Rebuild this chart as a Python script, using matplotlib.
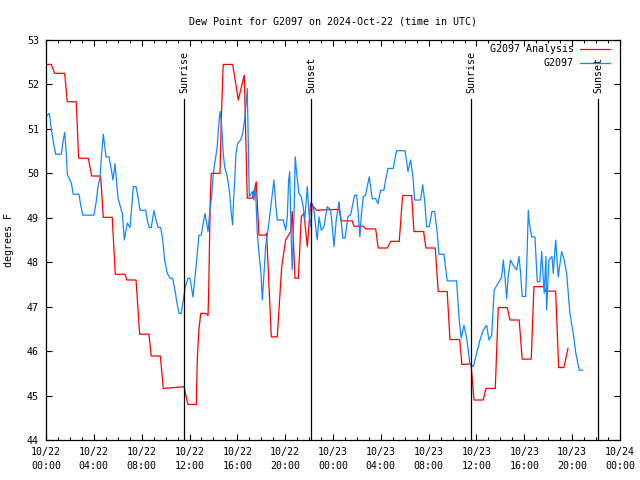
import matplotlib
matplotlib.use('Agg')
import matplotlib.pyplot as plt
from matplotlib.ticker import MultipleLocator

# hours since 2024-10-22 00:00 UTC
analysis_hours = [0.06, 0.44, 0.73, 1.56, 1.78, 2.53, 2.73, 3.54, 3.82, 4.57, 4.79, 5.54, 5.79, 6.61,
                  6.77, 7.53, 7.83, 8.61, 8.80, 9.56, 9.81, 11.54, 11.87, 12.57, 12.65, 12.77, 12.94,
                  13.35, 13.55, 13.60, 13.74, 13.82, 14.55, 14.66, 14.82, 15.61, 15.86, 16.08, 16.58,
                  16.83, 17.25, 17.58, 17.81, 18.37, 18.45, 18.84, 19.34, 19.71, 20.04, 20.46, 20.59,
                  20.82, 21.10, 21.35, 21.57, 21.85, 22.13, 22.63, 24.50, 24.69, 25.61, 25.75, 26.53,
                  26.73, 27.57, 27.78, 28.54, 28.82, 29.54, 29.82, 30.58, 30.77, 31.58, 31.77, 32.55,
                  32.80, 33.55, 33.78, 34.59, 34.78, 35.54, 35.79, 36.56, 36.79, 37.57, 37.82, 38.57,
                  38.80, 39.57, 39.82, 40.58, 40.80, 41.64, 41.78, 42.62, 42.87, 43.31, 43.65]
analysis_dewp = [52.45, 52.45, 52.25, 52.25, 51.61, 51.61, 50.34, 50.34, 49.94, 49.94, 49.01, 49.01,
                 47.73, 47.73, 47.60, 47.60, 46.38, 46.38, 45.89, 45.89, 45.16, 45.20, 44.80, 44.80,
                 45.80, 46.44, 46.85, 46.85, 46.80, 47.30, 49.47, 50.00, 50.00, 51.24, 52.45, 52.45,
                 52.03, 51.65, 52.21, 49.44, 49.44, 49.81, 48.61, 48.61, 48.65, 46.32, 46.32, 47.90,
                 48.50, 48.69, 49.14, 47.64, 47.64, 49.03, 49.10, 48.35, 49.32, 49.17, 49.19, 48.93,
                 48.93, 48.81, 48.81, 48.75, 48.75, 48.32, 48.32, 48.47, 48.47, 49.50, 49.50, 48.69,
                 48.69, 48.32, 48.32, 47.34, 47.34, 46.26, 46.26, 45.70, 45.71, 44.90, 44.90, 45.16,
                 45.16, 46.98, 46.98, 46.70, 46.70, 45.82, 45.82, 47.45, 47.45, 47.35, 47.35, 45.63,
                 45.63, 46.06]

station_hours = [0.06, 0.28, 0.44, 0.61, 0.81, 1.28, 1.42, 1.56, 1.70, 1.78, 2.12, 2.28, 2.76, 2.90,
                 3.07, 4.01, 4.18, 4.35, 4.52, 4.66, 4.79, 5.02, 5.27, 5.49, 5.60, 5.77, 6.02, 6.38,
                 6.55, 6.80, 7.02, 7.17, 7.30, 7.53, 7.69, 7.86, 8.34, 8.47, 8.64, 8.80, 9.03, 9.20,
                 9.39, 9.59, 9.76, 9.92, 10.14, 10.37, 10.59, 10.76, 10.98, 11.12, 11.31, 11.48,
                 11.65, 11.87, 12.04, 12.29, 12.52, 12.65, 12.79, 12.98, 13.15, 13.29, 13.55, 13.71,
                 13.85, 13.99, 14.19, 14.32, 14.41, 14.55, 14.66, 14.82, 14.94, 15.16, 15.36, 15.49,
                 15.61, 15.66, 15.78, 15.89, 16.03, 16.28, 16.45, 16.61, 16.70, 16.83, 16.91, 17.00,
                 17.25, 17.39, 17.50, 17.58, 17.67, 17.81, 17.98, 18.09, 18.23, 18.37, 18.67, 19.06,
                 19.23, 19.34, 19.84, 20.04, 20.18, 20.29, 20.38, 20.51, 20.59, 20.74, 20.84, 20.96,
                 21.15, 21.35, 21.51, 21.63, 21.85, 21.99, 22.13, 22.27, 22.41, 22.58, 22.68, 22.83,
                 23.02, 23.24, 23.52, 23.80, 23.94, 24.08, 24.27, 24.50, 24.64, 24.83, 25.00, 25.25,
                 25.48, 25.61, 25.81, 25.98, 26.09, 26.25, 26.36, 26.53, 26.73, 26.86, 27.03, 27.28,
                 27.57, 27.76, 27.98, 28.26, 28.40, 28.60, 29.04, 29.16, 29.32, 30.02, 30.16, 30.27,
                 30.49, 30.69, 30.83, 31.33, 31.50, 31.66, 31.83, 32.05, 32.27, 32.50, 32.72, 32.86,
                 33.28, 33.55, 34.34, 34.53, 34.72, 34.95, 35.18, 35.45, 35.73, 36.01, 36.29, 36.56,
                 36.85, 37.04, 37.27, 37.48, 37.82, 38.10, 38.24, 38.38, 38.52, 38.65, 38.85, 39.13,
                 39.36, 39.55, 39.69, 39.82, 40.11, 40.24, 40.33, 40.41, 40.61, 40.89, 41.08, 41.30,
                 41.45, 41.66, 41.81, 41.86, 42.06, 42.31, 42.42, 42.62, 42.83, 43.12, 43.31, 43.54,
                 43.81, 44.09, 44.31, 44.59, 44.87]
station_dewp = [51.29, 51.35, 51.01, 50.71, 50.43, 50.43, 50.71, 50.92, 50.45, 49.98, 49.78, 49.53,
                49.53, 49.29, 49.06, 49.06, 49.33, 49.70, 49.92, 50.45, 50.88, 50.37, 50.37, 50.04,
                49.85, 50.22, 49.44, 49.10, 48.50, 48.88, 48.78, 49.25, 49.70, 49.70, 49.47, 49.17,
                49.17, 48.95, 48.78, 48.78, 49.16, 48.95, 48.78, 48.78, 48.50, 48.05, 47.75, 47.64,
                47.64, 47.41, 47.04, 46.85, 46.85, 47.15, 47.45, 47.64, 47.64, 47.22, 47.83, 48.20,
                48.61, 48.61, 48.88, 49.10, 48.69, 49.17, 49.47, 50.00, 50.37, 50.60, 50.98, 51.39,
                51.20, 50.45, 50.15, 49.92, 49.55, 49.10, 48.84, 49.25, 49.85, 50.45, 50.68, 50.75,
                50.90, 51.20, 51.50, 51.91, 50.75, 49.47, 49.59, 49.40, 49.70, 49.25, 48.65, 48.20,
                47.75, 47.15, 47.75, 48.35, 48.95, 49.85, 49.25, 48.95, 48.95, 48.72, 49.02, 49.85,
                50.04, 48.50, 47.83, 49.10, 50.37, 50.00, 49.55, 49.47, 49.25, 48.95, 49.70, 49.10,
                48.80, 49.32, 49.17, 48.72, 48.50, 49.02, 48.72, 48.80, 49.25, 49.18, 48.80, 48.35,
                48.95, 49.36, 49.03, 48.54, 48.54, 49.03, 49.07, 49.25, 49.51, 49.51, 49.18, 48.57,
                49.03, 49.47, 49.51, 49.70, 49.92, 49.43, 49.43, 49.32, 49.62, 49.62, 49.85, 50.11,
                50.11, 50.30, 50.51, 50.51, 50.26, 50.04, 50.30, 49.92, 49.40, 49.40, 49.74, 49.40,
                48.80, 48.80, 49.14, 49.14, 48.65, 48.18, 48.18, 47.58, 47.58, 46.77, 46.29, 46.58,
                46.29, 45.72, 45.65, 45.95, 46.25, 46.47, 46.58, 46.25, 46.36, 47.38, 47.53, 47.67,
                48.05, 47.67, 47.18, 47.67, 48.05, 47.90, 47.83, 48.13, 47.75, 47.23, 47.23, 48.28,
                49.17, 48.90, 48.57, 48.57, 47.56, 47.56, 48.24, 47.30, 48.13, 46.93, 48.05, 48.13,
                47.75, 48.50, 47.67, 48.24, 48.08, 47.75, 46.85, 46.40, 45.95, 45.57, 45.57]

sun_hours = [11.54, 22.16, 35.54, 46.15]
sun_labels = ['Sunrise', 'Sunset', 'Sunrise', 'Sunset']

tick_hours = list(range(0, 49, 4))
tick_labels = ['10/22\n00:00', '10/22\n04:00', '10/22\n08:00', '10/22\n12:00', '10/22\n16:00',
               '10/22\n20:00', '10/23\n00:00', '10/23\n04:00', '10/23\n08:00', '10/23\n12:00',
               '10/23\n16:00', '10/23\n20:00', '10/24\n00:00']

FS = 7.2
plt.rcParams['font.family'] = 'DejaVu Sans Mono'
plt.rcParams['font.size'] = FS

fig = plt.figure(figsize=(6.4, 4.8), dpi=100)
ax = fig.add_axes([46 / 640, 40 / 480, 574 / 640, 400 / 480])

ax.plot(analysis_hours, analysis_dewp, color='#ff0000', lw=0.9, label='G2097 Analysis')
ax.plot(station_hours, station_dewp, color='#1188ff', lw=0.9, label='G2097')

for h, txt in zip(sun_hours, sun_labels):
    ax.plot([h, h], [44, 51.67], color='black', lw=0.9)
    ax.text(h, 51.81, txt, rotation=90, ha='center', va='bottom', fontsize=FS)

ax.set_xlim(0, 48)
ax.set_ylim(44, 53)
ax.set_xticks(tick_hours)
ax.set_xticklabels(tick_labels, linespacing=1.5)
ax.xaxis.set_minor_locator(MultipleLocator(1))
ax.yaxis.set_major_locator(MultipleLocator(1))
ax.tick_params(which='both', direction='in', top=True, right=True, width=0.8)
ax.tick_params(which='major', length=4.5, pad=5)
ax.tick_params(which='minor', length=2.5)
for s in ax.spines.values():
    s.set_linewidth(0.9)

ax.set_title('Dew Point for G2097 on 2024-Oct-22 (time in UTC)', fontsize=FS, pad=11)
ax.set_ylabel('degrees F')
ax.yaxis.set_label_coords(-0.055, 0.5)

ax.legend(loc='upper right', bbox_to_anchor=(1 - 4 / 574, 1 + 2 / 400), frameon=False,
          markerfirst=False, handlelength=3.0, labelspacing=0.4, borderaxespad=0.2,
          handletextpad=0.6, fontsize=FS)

fig.savefig('out.png', dpi=100)
